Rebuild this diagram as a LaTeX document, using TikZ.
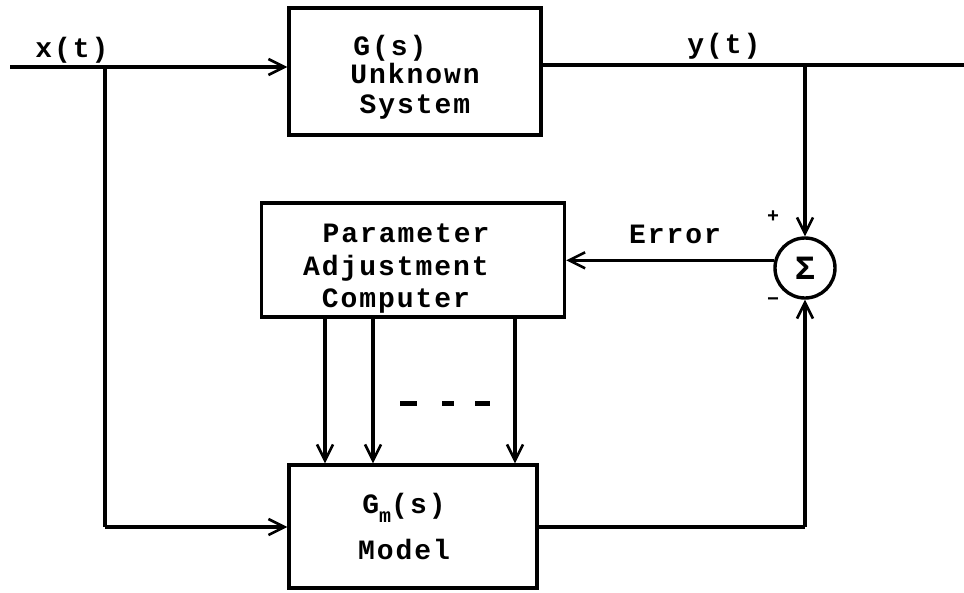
\documentclass[tikz,border=0pt]{standalone}
\usepackage{fontspec}
\setmonofont[LetterSpace=7]{Liberation Mono}
\usetikzlibrary{arrows.meta,calc}
\begin{document}
\begin{tikzpicture}[x=1pt,y=-1pt,
  every node/.style={font=\ttfamily\bfseries\fontsize{28}{28}\selectfont},
  box/.style={draw,line width=3.4pt,align=center,inner sep=0pt},
  wire/.style={line width=3.4pt},
  arr/.style={wire,-{Straight Barb[length=16pt,width=16pt,line width=2.6pt]}},
  sumnode/.style={draw,circle,line width=3.4pt,minimum size=60pt,inner sep=0pt},
  sgn/.style={font=\ttfamily\bfseries\fontsize{20}{20}\selectfont}]
\useasboundingbox (0,0) rectangle (964,592);
% blocks
\node[box,minimum width=252pt,minimum height=127pt] (G) at (415,71.5)
  {\rule{0pt}{32pt}G(s)\kern50pt\\Unknown\\[2pt]System};
\node[box,minimum width=303pt,minimum height=114pt] (P) at (413,260)
  {\rule{0pt}{36pt}Parameter\kern14pt\\[4.5pt]Adjustment\kern34pt\\[4.5pt]Computer\kern34pt};
\node[box,minimum width=248pt,minimum height=123pt] (M) at (413,526.5)
  {G\raisebox{-9pt}{\fontsize{20}{20}\selectfont m}(s)\kern18pt\\[15pt]Model\kern18pt};
\node[sumnode,font=\ttfamily\bfseries\fontsize{34}{34}\selectfont] (S) at (805,268) {Σ};
% labels
\node[anchor=base] (xl) at (72,57) {x(t)};
\node[anchor=base] (yl) at (724,53) {y(t)};
\node[anchor=base] (el) at (675,243) {Error};
\node[sgn] (plus) at (773,217) {+};
\node[sgn] (minus) at (773,302) {−};
% coordinates
\coordinate (in) at (10,67);
\coordinate (br) at (105,67);
\coordinate (brd) at (105,527);
\coordinate (out) at (964,65);
\coordinate (tap) at (805,65);
\coordinate (mo) at (805,527);
% connectors
\draw[arr] (in) -- (in -| G.west);
\draw[wire] (br) -- (brd);
\draw[arr] (brd) -- (brd -| M.west);
\draw[wire] (tap -| G.east) -- (out);
\draw[arr] (tap) -- (S.north);
\draw[arr] (S.166) -- (S.166 -| P.east);
\draw[wire] (mo -| M.east) -- (mo);
\draw[arr] (mo) -- (S.south);
\foreach \xx in {325,373,515}
  \draw[arr] (P.south -| \xx,0) -- (M.north -| \xx,0);
% dashes
\foreach \xa/\xb in {400/417,442/454,475/490}
  \draw[line width=5pt] (\xa,403) -- (\xb,403);
\end{tikzpicture}
\end{document}
